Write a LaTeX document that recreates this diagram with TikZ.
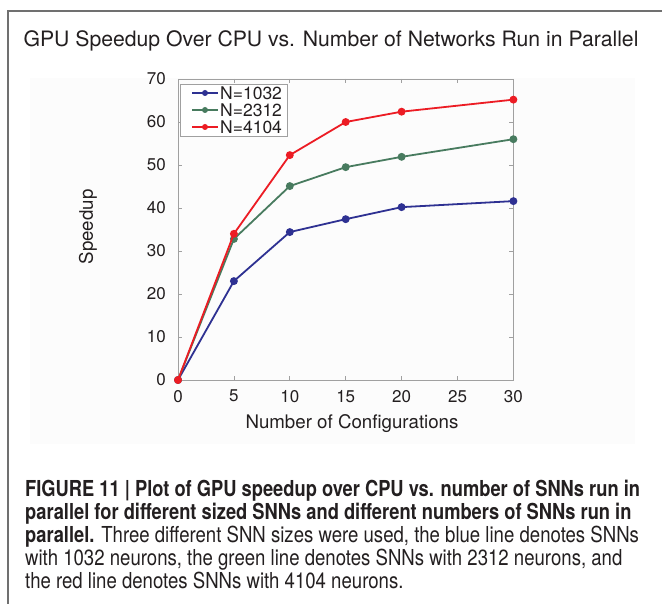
\documentclass[tikz,border=0pt]{standalone}
\usepackage{fontspec}
\setmainfont{TeX Gyre Heros}
\newfontfamily\capfont[FakeStretch=0.845,BoldFeatures={FakeStretch=0.832}]{TeX Gyre Heros}
\usetikzlibrary{positioning}

\definecolor{ink}{RGB}{35,31,32}
\definecolor{framegray}{RGB}{112,112,112}
\definecolor{axisgray}{RGB}{160,160,160}
\definecolor{netblue}{RGB}{46,49,146}
\definecolor{netgreen}{RGB}{72,123,95}
\definecolor{netred}{RGB}{236,28,36}

\begin{document}
\begin{tikzpicture}[x=1pt,y=-1pt,text=ink,
    curve/.style={line width=1.8pt,mark=*,mark size=3pt},
    ticklbl/.style={inner sep=0pt,font=\fontsize{17}{19}\selectfont},
    axlbl/.style={inner sep=0pt,font=\fontsize{18.7}{21}\selectfont}]
  \useasboundingbox (0,0) rectangle (662,604);
  \fill[black!1] (30,78) rectangle (635,444);
  \draw[framegray,line width=1.6pt] (662,11) -| (8,604);
  \node[anchor=base,inner sep=0pt,font=\fontsize{21.2}{24}\selectfont] (title) at (331,47)
       {GPU Speedup Over CPU vs. Number of Networks Run in Parallel};

  % axes in data units
  \begin{scope}[shift={(178,380)},x=11.18pt,y=4.3pt]
    \draw[axisgray,line width=0.8pt] (0,0) rectangle (30,70);
    \foreach \x in {0,5,...,30} {
      \draw[axisgray,line width=0.8pt] (\x,0) -- ++(0,4pt) (\x,70) -- ++(0,-4pt);
      \node[ticklbl,anchor=north,yshift=-10pt] (xt\x) at (\x,0) {\x};
    }
    \foreach \y in {0,10,...,70} {
      \draw[axisgray,line width=0.8pt] (0,\y) -- ++(4pt,0) (30,\y) -- ++(-4pt,0);
      \node[ticklbl,anchor=east,xshift=-12pt] (yt\y) at (0,\y) {\y};
    }
    \draw[curve,netblue]  plot coordinates {(0,0) (5,23) (10,34.4) (15,37.4) (20,40.2) (30,41.6)};
    \draw[curve,netgreen] plot coordinates {(0,0) (5,32.8) (10,45.1) (15,49.5) (20,51.9) (30,56)};
    \draw[curve,netred]   plot coordinates {(0,0) (5,34) (10,52.3) (15,60) (20,62.4) (30,65.2)};
  \end{scope}

  \node[axlbl,rotate=90] (ylab) at (88,227) {Speedup};
  \node[axlbl] (xlab) at (352,424) {Number of Configurations};

  % legend
  \node[draw=axisgray,line width=0.8pt,fill=white,anchor=north west,
        minimum width=107pt,minimum height=52pt] (legend) at (180,84) {};
  \foreach \c/\n [count=\i] in {netblue/1032,netgreen/2312,netred/4104} {
    \pgfmathsetmacro\ey{76+17*\i}
    \draw[\c,line width=1.8pt] (192,\ey) -- (218,\ey);
    \fill[\c] (205,\ey) circle (3pt);
    \node[inner sep=0pt,anchor=west,font=\fontsize{17.5}{20}\selectfont] (leg\i) at (220,\ey) {N=\n};
  }

  \node[anchor=north west,inner sep=0pt,align=left,
        font=\capfont\fontsize{22}{23}\selectfont] (caption) at (25,480)
   {{\bfseries FIGURE 11 | Plot of GPU speedup over CPU vs. number of SNNs run in}\\
    {\bfseries parallel for different sized SNNs and different numbers of SNNs run in}\\
    {\bfseries parallel.} Three different SNN sizes were used, the blue line denotes SNNs\\
    with 1032 neurons, the green line denotes SNNs with 2312 neurons, and\\
    the red line denotes SNNs with 4104 neurons.};
\end{tikzpicture}
\end{document}
